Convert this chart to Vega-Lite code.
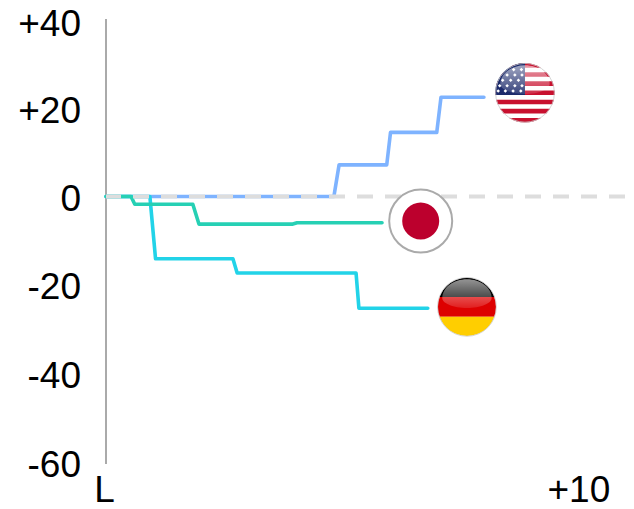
{
  "$schema": "https://vega.github.io/schema/vega-lite/v6.json",
  "autosize": "none",
  "width": 519,
  "height": 445,
  "padding": {"left": 106, "top": 18.5, "right": 9, "bottom": 45.5},
  "background": "white",
  "config": {"view": {"stroke": null}},
  "resolve": {"scale": {"color": "independent", "shape": "independent", "size": "independent"}},
  "datasets": {
    "tracks": [
      {"country": "United States", "step": 0, "game": 0, "gap": 0},
      {"country": "United States", "step": 1, "game": 4.83, "gap": 0},
      {"country": "United States", "step": 2, "game": 4.94, "gap": 7.1},
      {"country": "United States", "step": 3, "game": 5.95, "gap": 7.1},
      {"country": "United States", "step": 4, "game": 6.03, "gap": 14.4},
      {"country": "United States", "step": 5, "game": 7.01, "gap": 14.4},
      {"country": "United States", "step": 6, "game": 7.1, "gap": 22.3},
      {"country": "United States", "step": 7, "game": 8.01, "gap": 22.3},
      {"country": "Germany", "step": 0, "game": 0, "gap": 0},
      {"country": "Germany", "step": 1, "game": 0.93, "gap": 0},
      {"country": "Germany", "step": 2, "game": 1.05, "gap": -14},
      {"country": "Germany", "step": 3, "game": 2.69, "gap": -14},
      {"country": "Germany", "step": 4, "game": 2.78, "gap": -17.2},
      {"country": "Germany", "step": 5, "game": 5.3, "gap": -17.2},
      {"country": "Germany", "step": 6, "game": 5.36, "gap": -25.1},
      {"country": "Germany", "step": 7, "game": 6.82, "gap": -25.1},
      {"country": "Japan", "step": 0, "game": 0, "gap": 0},
      {"country": "Japan", "step": 1, "game": 0.53, "gap": 0},
      {"country": "Japan", "step": 2, "game": 0.61, "gap": -1.75},
      {"country": "Japan", "step": 3, "game": 1.84, "gap": -1.75},
      {"country": "Japan", "step": 4, "game": 1.97, "gap": -6.2},
      {"country": "Japan", "step": 5, "game": 3.96, "gap": -6.2},
      {"country": "Japan", "step": 6, "game": 4.05, "gap": -5.9},
      {"country": "Japan", "step": 7, "game": 5.85, "gap": -5.9}
    ],
    "flags": [
      {"country": "United States", "part": "us-field", "game": 8.88, "gap": 23.3},
      {"country": "United States", "part": "us-stripes", "game": 8.88, "gap": 23.3},
      {"country": "United States", "part": "us-canton", "game": 8.88, "gap": 23.3},
      {"country": "United States", "part": "us-stars", "game": 8.88, "gap": 23.3},
      {"country": "Germany", "part": "de-black", "game": 7.65, "gap": -24.8},
      {"country": "Germany", "part": "de-red", "game": 7.65, "gap": -24.8},
      {"country": "Germany", "part": "de-gold", "game": 7.65, "gap": -24.8},
      {"country": "Japan", "part": "jp-sun", "game": 6.67, "gap": -5.5}
    ],
    "badges": [
      {"country": "United States", "game": 8.88, "gap": 23.3},
      {"country": "Germany", "game": 7.65, "gap": -24.8}
    ],
    "jpDisc": [
      {"country": "Japan", "game": 6.67, "gap": -5.5}
    ]
  },
  "layer": [
    {
      "data": {"name": "tracks"},
      "mark": {"type": "line", "strokeWidth": 3.6, "strokeJoin": "round", "strokeCap": "round", "interpolate": "linear"},
      "encoding": {
        "x": {
          "field": "game", "type": "quantitative",
          "scale": {"domain": [0, 11], "nice": false},
          "axis": {
            "values": [0, 10], "title": null, "grid": false, "domain": false, "ticks": false,
            "labelExpr": "datum.value === 0 ? 'L' : '+10'",
            "labelFont": "Liberation Sans", "labelFontSize": 37, "labelColor": "#000000",
            "labelPadding": 9, "labelAngle": 0, "labelAlign": "center", "labelBaseline": "top", "labelOverlap": false,
            "labelOffset": {"expr": "datum.value === 0 ? -2 : 0.5"}
          }
        },
        "y": {
          "field": "gap", "type": "quantitative",
          "scale": {"domain": [-60, 40], "nice": false},
          "axis": {
            "values": [-60, -40, -20, 0, 20, 40], "title": null, "grid": false, "ticks": false,
            "domainColor": "#aaaaaa", "domainWidth": 2, "offset": 0.5,
            "labelExpr": "datum.value > 0 ? '+' + datum.value : '' + datum.value",
            "labelFont": "Liberation Sans", "labelFontSize": 37, "labelColor": "#000000",
            "labelPadding": 25, "labelOverlap": false, "labelBound": false, "labelFlush": false,
            "labelOffset": {"expr": "datum.value === 40 ? 6 : datum.value === 20 ? 4 : datum.value === 0 ? 2.5 : 1.5"}
          }
        },
        "color": {
          "field": "country", "type": "nominal", "legend": null,
          "scale": {"domain": ["United States", "Germany", "Japan"], "range": ["#7eb3ff", "#22d3e8", "#26d0b4"]}
        },
        "order": {"field": "step", "type": "quantitative"},
        "detail": {"field": "country"}
      }
    },
    {
      "data": {"values": [{"gap": 0}]},
      "mark": {"type": "rule", "stroke": "#dddddd", "strokeWidth": 4, "strokeDash": [16, 12]},
      "encoding": {"y": {"field": "gap", "type": "quantitative"}}
    },
    {
      "data": {"name": "jpDisc"},
      "mark": {"type": "point", "shape": "circle", "filled": true, "fill": "#ffffff", "stroke": "#aaaaaa", "strokeWidth": 2, "opacity": 1, "size": 3970},
      "encoding": {
        "x": {"field": "game", "type": "quantitative"},
        "y": {"field": "gap", "type": "quantitative"}
      }
    },
    {
      "data": {"name": "flags"},
      "mark": {"type": "point", "filled": true, "opacity": 1},
      "encoding": {
        "x": {"field": "game", "type": "quantitative"},
        "y": {"field": "gap", "type": "quantitative"},
        "shape": {
          "field": "part", "type": "nominal", "legend": null,
          "scale": {
            "domain": ["us-field", "us-stripes", "us-canton", "us-stars", "de-black", "de-red", "de-gold", "jp-sun"],
            "range": [
              "M-1 0A1 1 0 0 1 1 0A1 1 0 0 1 -1 0Z",
              "M-0.533 -0.846A1 1 0 0 1 0.533 -0.846ZM-0.843 -0.538L-0.722 -0.692L0.722 -0.692L0.843 -0.538ZM-0.973 -0.231L-0.923 -0.385L0.923 -0.385L0.973 -0.231ZM-1 0.077L-1 -0.077L1 -0.077L1 0.077ZM-0.923 0.385L-0.973 0.231L0.973 0.231L0.923 0.385ZM-0.722 0.692L-0.843 0.538L0.843 0.538L0.722 0.692ZM-0.533 0.846L0.533 0.846A1 1 0 0 1 -0.533 0.846Z",
              "M0 -1L0 0.077L-0.997 0.077A1 1 0 0 1 0 -1Z",
              "M-0.38 -0.84L-0.32 -0.78L-0.38 -0.72L-0.44 -0.78ZM-0.12 -0.84L-0.06 -0.78L-0.12 -0.72L-0.18 -0.78ZM-0.6 -0.66L-0.54 -0.6L-0.6 -0.54L-0.66 -0.6ZM-0.34 -0.66L-0.28 -0.6L-0.34 -0.54L-0.4 -0.6ZM-0.1 -0.66L-0.04 -0.6L-0.1 -0.54L-0.16 -0.6ZM-0.75 -0.48L-0.69 -0.42L-0.75 -0.36L-0.81 -0.42ZM-0.48 -0.48L-0.42 -0.42L-0.48 -0.36L-0.54 -0.42ZM-0.22 -0.48L-0.16 -0.42L-0.22 -0.36L-0.28 -0.42ZM-0.85 -0.3L-0.79 -0.24L-0.85 -0.18L-0.91 -0.24ZM-0.6 -0.3L-0.54 -0.24L-0.6 -0.18L-0.66 -0.24ZM-0.34 -0.3L-0.28 -0.24L-0.34 -0.18L-0.4 -0.24ZM-0.1 -0.3L-0.04 -0.24L-0.1 -0.18L-0.16 -0.24ZM-0.9 -0.12L-0.84 -0.06L-0.9 0L-0.96 -0.06ZM-0.66 -0.12L-0.6 -0.06L-0.66 0L-0.72 -0.06ZM-0.4 -0.12L-0.34 -0.06L-0.4 0L-0.46 -0.06ZM-0.14 -0.12L-0.08 -0.06L-0.14 0L-0.2 -0.06Z",
              "M-0.94 -0.34A1 1 0 0 1 0.94 -0.34Z",
              "M-0.94 -0.34L0.94 -0.34A1 1 0 0 1 0.94 0.34L-0.94 0.34A1 1 0 0 1 -0.94 -0.34Z",
              "M-0.94 0.34L0.94 0.34A1 1 0 0 1 -0.94 0.34Z",
              "M-1 0A1 1 0 0 1 1 0A1 1 0 0 1 -1 0Z"
            ]
          }
        },
        "color": {
          "field": "part", "type": "nominal", "legend": null,
          "scale": {
            "domain": ["us-field", "us-stripes", "us-canton", "us-stars", "de-black", "de-red", "de-gold", "jp-sun"],
            "range": ["#ffffff", "#c8102e", "#1c2a6b", "#ffffff", "#000000", "#dd0000", "#ffce00", "#bc002d"]
          }
        },
        "size": {
          "field": "part", "type": "nominal", "legend": null,
          "scale": {
            "type": "ordinal",
            "domain": ["us-field", "us-stripes", "us-canton", "us-stars", "de-black", "de-red", "de-gold", "jp-sun"],
            "range": [3540, 3540, 3540, 3540, 3400, 3400, 3400, 1370]
          }
        }
      }
    },
    {
      "data": {"name": "badges"},
      "mark": {
        "type": "point", "shape": "M-0.84 -0.3A0.84 0.64 0 0 1 0.84 -0.3A0.84 0.34 0 0 1 -0.84 -0.3Z",
        "filled": true, "opacity": 1, "size": 3450,
        "fill": {
          "gradient": "linear", "x1": 0, "y1": 0, "x2": 0, "y2": 1,
          "stops": [
            {"offset": 0, "color": "rgba(255,255,255,0.58)"},
            {"offset": 1, "color": "rgba(255,255,255,0.12)"}
          ]
        }
      },
      "encoding": {
        "x": {"field": "game", "type": "quantitative"},
        "y": {"field": "gap", "type": "quantitative"}
      }
    },
    {
      "data": {"name": "badges"},
      "mark": {"type": "point", "shape": "circle", "filled": false, "stroke": "#cccccc", "strokeWidth": 1, "opacity": 0.8, "size": 3450},
      "encoding": {
        "x": {"field": "game", "type": "quantitative"},
        "y": {"field": "gap", "type": "quantitative"}
      }
    }
  ]
}
